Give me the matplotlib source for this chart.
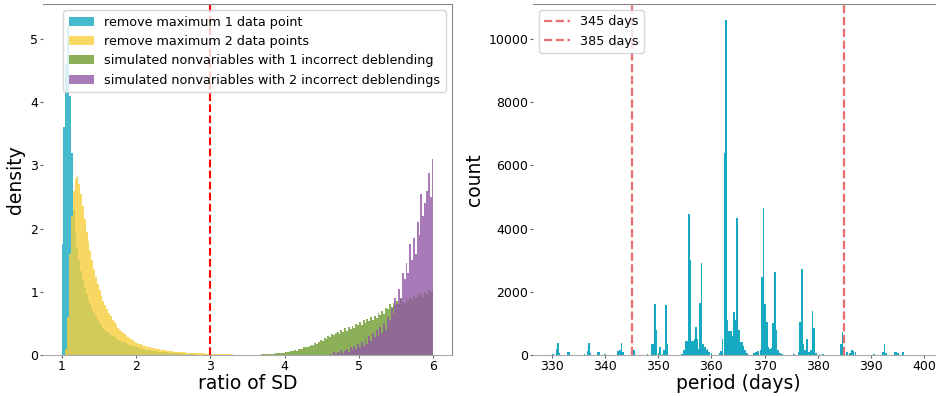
import numpy as np
import matplotlib
matplotlib.use("Agg")
from matplotlib import pyplot as plt

# ---- left panel: histogram densities (bin start, bin width, heights) ----
bin_w = 0.025

cyan_start = 1.0
cyan_density = [
    1.75, 3.6, 4.6, 5.2,
    4.1, 3.2, 2.3, 1.95,
    1.7, 1.5, 1.33, 1.18,
    1.06, 0.96, 0.88, 0.8,
    0.73, 0.67, 0.61, 0.56,
    0.51, 0.47, 0.43, 0.40,
    0.37, 0.34, 0.32, 0.30,
    0.28, 0.26, 0.24, 0.22,
    0.21, 0.2, 0.185, 0.17,
    0.16, 0.15, 0.14, 0.13,
    0.12, 0.11, 0.1, 0.095,
    0.09, 0.085, 0.08, 0.075,
    0.07, 0.065, 0.06, 0.058,
    0.055, 0.05, 0.048, 0.045,
    0.042, 0.04, 0.037, 0.035,
    0.033, 0.03, 0.028, 0.026,
    0.024, 0.022, 0.02, 0.018,
    0.016, 0.015, 0.014, 0.012,
]

yellow_start = 1.05
yellow_density = [
    0.1, 0.6, 1.6, 2.2,
    2.6, 2.78, 2.82, 2.7,
    2.55, 2.35, 2.15, 1.95,
    1.8, 1.65, 1.5, 1.36,
    1.24, 1.13, 1.03, 0.94,
    0.86, 0.79, 0.72, 0.66,
    0.61, 0.56, 0.52, 0.47,
    0.43, 0.40, 0.37, 0.34,
    0.31, 0.29, 0.27, 0.25,
    0.23, 0.21, 0.195, 0.18,
    0.17, 0.16, 0.15, 0.14,
    0.13, 0.12, 0.115, 0.11,
    0.1, 0.095, 0.09, 0.085,
    0.08, 0.075, 0.07, 0.066,
    0.062, 0.058, 0.055, 0.052,
    0.05, 0.047, 0.045, 0.043,
    0.04, 0.038, 0.036, 0.034,
    0.032, 0.03, 0.029, 0.028,
    0.026, 0.025, 0.024, 0.022,
    0.021, 0.02, 0.019, 0.018,
    0.017, 0.016, 0.015, 0.014,
    0.013, 0.012, 0.011, 0.01,
    0.009, 0.008, 0.007, 0.006,
    0.005, 0.004, 0.003, 0.002,
]

green_start = 3.6
green_density = [
    0.004, 0.006, 0.005, 0.008,
    0.008, 0.01, 0.012, 0.015,
    0.015, 0.02, 0.018, 0.025,
    0.025, 0.03, 0.035, 0.03,
    0.04, 0.05, 0.045, 0.06,
    0.06, 0.075, 0.07, 0.09,
    0.1, 0.09, 0.12, 0.13,
    0.12, 0.15, 0.16, 0.14,
    0.19, 0.17, 0.21, 0.23,
    0.22, 0.27, 0.25, 0.3,
    0.28, 0.33, 0.31, 0.35,
    0.36, 0.33, 0.39, 0.37,
    0.42, 0.38, 0.44, 0.41,
    0.46, 0.43, 0.49, 0.47,
    0.52, 0.48, 0.55, 0.5,
    0.57, 0.53, 0.6, 0.56,
    0.62, 0.58, 0.66, 0.64,
    0.7, 0.65, 0.74, 0.72,
    0.8, 0.76, 0.83, 0.79,
    0.85, 0.8, 0.88, 0.84,
    0.82, 0.9, 0.86, 0.92,
    0.88, 0.94, 0.9, 0.96,
    0.93, 0.98, 0.92, 1.0,
    0.97, 1.02, 0.99, 1.03,
]

purple_start = 4.6
purple_density = [
    0.02, 0.0, 0.04, 0.01,
    0.05, 0.02, 0.08, 0.03,
    0.06, 0.1, 0.04, 0.12,
    0.08, 0.15, 0.1, 0.18,
    0.12, 0.2, 0.15, 0.25,
    0.18, 0.3, 0.22, 0.35,
    0.28, 0.4, 0.3, 0.45,
    0.35, 0.5, 0.4, 0.6,
    0.55, 0.75, 0.65, 0.9,
    0.8, 1.05, 0.9, 1.3,
    1.2, 1.45, 1.3, 1.75,
    1.5, 1.85, 1.6, 2.1,
    1.9, 2.55, 2.2, 2.4,
    2.6, 2.88, 2.5, 3.1,
]

left_labels = ["remove maximum 1 data point",
               "remove maximum 2 data points",
               "simulated nonvariables with 1 incorrect deblending",
               "simulated nonvariables with 2 incorrect deblendings"]
sd_cut = 3

# ---- right panel: period histogram (bin centre, count) ----
periods = [330.3, 330.9, 331.2, 331.5, 333.0, 333.3, 336.2, 336.7, 337.0, 337.3,
           338.7, 339.0, 340.0, 342.5, 342.8, 343.1, 343.4, 345.5, 348.0, 348.8,
           349.1, 349.4, 349.7, 350.1, 350.4, 350.8, 351.1, 351.45, 351.75, 354.5,
           354.9, 355.2, 355.5, 355.75, 356.05, 356.3, 356.6, 356.9, 357.15, 357.4,
           357.7, 357.9, 358.15, 358.45, 358.75, 359.0, 359.3, 359.6, 360.0, 361.5,
           361.85, 362.1, 362.45, 362.75, 363.05, 363.35, 363.65, 363.95, 364.25, 364.55,
           364.85, 365.15, 365.45, 365.75, 366.05, 366.35, 366.7, 368.0, 368.4, 368.8,
           369.2, 369.5, 369.8, 370.1, 370.4, 370.7, 371.0, 371.3, 371.6, 371.9,
           372.2, 372.5, 372.9, 373.3, 375.5, 376.4, 376.7, 377.0, 377.3, 377.6,
           377.95, 378.3, 378.7, 379.0, 379.3, 379.7, 380.3, 381.0, 384.3, 384.6,
           385.5, 386.0, 386.4, 386.7, 387.1, 390.5, 392.2, 392.5, 392.8, 394.5,
           394.8, 395.1, 396.0]
counts = [30, 180, 390, 60, 100, 80, 40, 120, 390, 60,
          100, 110, 30, 130, 160, 370, 80, 150, 30, 350,
          350, 1610, 780, 60, 250, 40, 150, 1580, 350, 30,
          150, 450, 450, 4450, 3000, 430, 450, 500, 900, 500,
          200, 1650, 2900, 350, 250, 150, 180, 100, 60, 60,
          130, 500, 6400, 10590, 1100, 750, 750, 600, 1370, 1100,
          4350, 800, 400, 420, 300, 150, 50, 60, 100, 120,
          150, 2480, 4640, 1600, 1050, 250, 200, 230, 1000, 2640,
          800, 150, 60, 30, 20, 100, 1050, 2720, 350, 150,
          500, 100, 150, 1380, 850, 60, 40, 20, 350, 720,
          100, 60, 150, 130, 80, 20, 80, 350, 60, 100,
          110, 60, 80]
period_lines = [345, 385]

teal = "#17a9c1"

fig = plt.figure(figsize=(9.37, 3.96), dpi=100)
ax1 = fig.add_axes([43/937, 41/396, 409/937, 351/396])
ax2 = fig.add_axes([533/937, 41/396, 410/937, 351/396])

series = [(cyan_start, cyan_density, teal),
          (yellow_start, yellow_density, "#f7cf3c"),
          (green_start, green_density, "#6f9b31"),
          (purple_start, purple_density, "#9259a5")]
for (start, dens, col), lab in zip(series, left_labels):
    x = start + bin_w * np.arange(len(dens))
    ax1.bar(x, dens, width=bin_w, align="edge", color=col, alpha=0.8,
            linewidth=0, label=lab)
ax1.axvline(sd_cut, color="red", linestyle="--", linewidth=1.5)
ax1.set_xlim(0.75, 6.25)
ax1.set_ylim(0, 5.55)
ax1.set_xlabel("ratio of SD", fontsize=13.5, labelpad=1)
ax1.set_ylabel("density", fontsize=13.5, labelpad=4)
ax1.legend(loc="upper right", fontsize=9.2)

ax2.bar(periods, counts, width=0.3, color=teal, linewidth=0)
for p in period_lines:
    ax2.axvline(p, color="#e03030", alpha=0.7, linestyle="--", linewidth=1.6,
                label=f"{p} days")
ax2.set_xlim(326.5, 403.5)
ax2.set_ylim(0, 11110)
ax2.set_xticks(range(330, 401, 10))
ax2.set_xlabel("period (days)", fontsize=13.5, labelpad=1)
ax2.set_ylabel("count", fontsize=13.5, labelpad=3)
ax2.legend(loc="upper left", fontsize=9.2)

for ax in (ax1, ax2):
    ax.tick_params(labelsize=9, length=2, pad=1.5, color="#666666")
    ax.spines["left"].set_visible(False)
    for s in ("top", "right"):
        ax.spines[s].set_color("#888888")
    ax.spines["bottom"].set_color("#aaaaaa")

fig.savefig("out.png", dpi=100)
